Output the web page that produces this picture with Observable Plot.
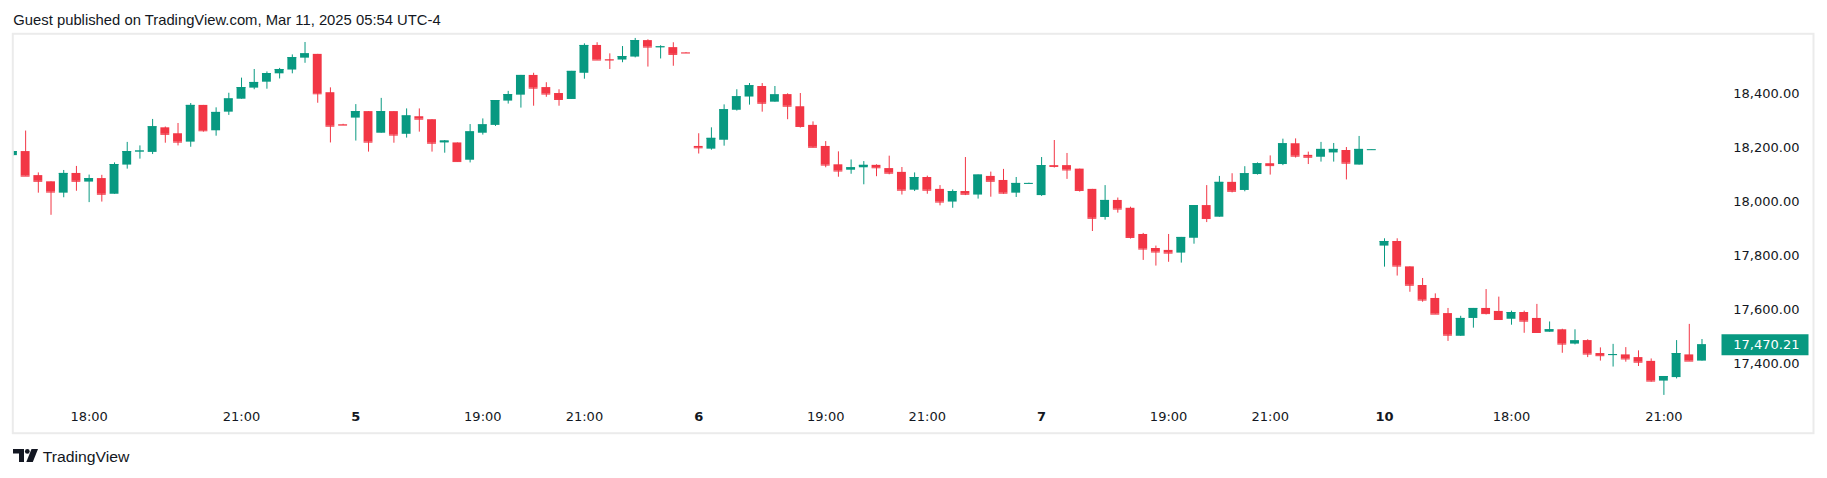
<!DOCTYPE html>
<html>
<head>
<meta charset="utf-8">
<script src="https://cdn.jsdelivr.net/npm/d3@7"></script>
<script src="https://cdn.jsdelivr.net/npm/@observablehq/plot@0.6"></script>
<style>
  html, body { margin: 0; padding: 0; background: #fff; }
  body { width: 1827px; height: 478px; position: relative; overflow: hidden; }
  #title { position: absolute; left: 0; top: 0; }
  #chart { position: absolute; left: 0; top: 30px; }
  #footer { position: absolute; left: 0; top: 440px; }
</style>
</head>
<body>
<svg id="title" width="480" height="32"><text x="13.3" y="25" textLength="427.4" lengthAdjust="spacingAndGlyphs" font-family="Liberation Sans, Arial, sans-serif" font-size="15" fill="#131722">Guest published on TradingView.com, Mar 11, 2025 05:54 UTC-4</text></svg>
<div id="chart"></div>
<svg id="footer" width="200" height="30">
  <g transform="translate(13,9)"><path d="M0 0H11V13H6V4.5H0Z" fill="#131722"/><circle cx="14.3" cy="2.4" r="2.4" fill="#131722"/><path d="M18.5 0H25L19.8 13H13.3Z" fill="#131722"/></g>
  <text x="42.7" y="21.7" textLength="86.6" lengthAdjust="spacingAndGlyphs" font-family="Liberation Sans, Arial, sans-serif" font-size="15.5" fill="#131722">TradingView</text>
</svg>
<script>
// ---- data (15-minute bars, index = bar number) ----
const opens = [
18171,18186,18097,18074,18032,18105,18073,18086,18028,18136,18185,18183,18274,18252,18221,18357,18263,18332,18380,18421,18443,18474,18488,18532,18546,18404,18286,
18310,18334,18254,18334,18250,18315,18304,18218,18218,18154,18254,18283,18373,18395,18468,18423,18401,18379,18476,18579,18527,18525,18536,18597,18571,18571,18552,
18205,18195,18228,18339,18388,18427,18369,18397,18352,18283,18205,18137,18117,18126,18135,18123,18109,18043,18090,18046,17999,18038,18025,18094,18079,18032,18067.5,
18023,18134,18134,18121,18046,17942,18005,17976,17879,17827,17820,17810,17865,17986,17943,18072,18042,18101,18141,18138,18215,18172,18165,18181,18190,18136,18192,
17836,17853,17759,17690,17642,17586,17502,17568,17605,17594,17565,17590,17568,17517,17526,17473,17486,17438,17431,17433,17423,17409,17336,17349,17433,17410];
const highs = [
18188,18262,18107,18074,18116,18131,18099,18098,18144,18220,18207,18305,18277,18290,18364,18357,18348,18402,18458,18490,18481,18494,18544,18590,18546,18422,18287,
18360,18334,18383,18334,18344,18344,18304,18227,18218,18286,18307,18375,18409,18468,18476,18441,18415,18483,18585,18589,18548,18575,18605,18600,18578,18589,18553,
18252,18274,18359,18415,18438,18438,18427,18400,18401,18296,18223,18185,18155,18149,18137,18169,18127,18107,18095,18060,18044,18164,18099,18110,18120,18090,18069,
18164,18227,18179,18121,18046,18060,18014,17980,17883,17836,17879,17868,17986,18060,18094,18104,18130,18144,18170,18232,18233,18184,18220,18216,18201,18242,18193.5,
17863,17863,17759,17716,17659,17605,17576,17605,17675,17647,17595,17595,17620,17555,17528,17526,17489,17459,17472,17460,17448,17418,17353,17486,17546,17490];
const lows = [
18168,18095,18032,17950,18015,18039,17997,17999,18028,18121,18158,18175,18217,18207,18202,18258,18243,18320,18380,18415,18417,18455,18474,18513,18365,18218,18283,
18225,18184,18254,18217,18236,18258,18184,18180,18147,18144,18247,18279,18362,18347,18354,18387,18354,18379,18454,18525,18490,18515,18533,18499,18529,18502,18550,
18177,18191,18206,18336,18358,18332,18369,18304,18273,18200,18126,18091,18102,18063,18093,18100,18025,18038,18028,17985,17976,18023,18010,18017,18028,18016,18067,
18020,18125,18083,18036,17890,17932,17958,17862,17783,17762,17776,17773,17843,17923,17943,18033,18037,18099,18099,18134,18162,18138,18147,18147,18081,18136,18192,
17758,17725,17665,17628,17584,17483,17502,17532,17581,17562,17543,17513,17515,17517,17439,17470,17423,17410,17388,17406,17390,17332,17283,17344,17410,17410];
const closes = [
18186,18095,18076,18036,18105,18076,18086,18028,18138,18186,18188,18278,18250,18221,18357,18263,18331,18381,18423,18442,18475,18490,18534,18548,18400,18280,18284,
18334,18221,18334,18247,18318,18306,18217,18225,18149,18259,18285,18375,18397,18468,18421,18399,18379,18483,18579,18525,18525,18538,18597,18573,18574,18546,18551,
18200,18235,18341,18389,18430,18365,18396,18354,18279,18202,18136,18114,18126,18135,18126,18106,18043,18090,18043,17999,18038,18028,18099,18076,18032,18068,18068,
18134,18131,18118,18042,17939,18005,17973,17868,17825,17814,17810,17868,17986,17938,18072,18039,18104,18141,18134,18215,18169,18165,18194,18194,18143,18194,18193,
17853,17762,17691,17636,17584,17506,17568,17605,17586,17564,17590,17558,17516,17526,17473,17485,17436,17430,17434,17418,17406,17336,17353,17438,17410,17470.21];

const xTickIndex  = [6, 18, 27, 37, 45, 54, 64, 72, 81, 91, 99, 108, 118, 130];
const xTickLabels = ["18:00","21:00","5","19:00","21:00","6","19:00","21:00","7","19:00","21:00","10","18:00","21:00"];
const xTickBold   = [false,false,true,false,false,true,false,false,true,false,false,true,false,false];
const yTicks = [17400, 17600, 17800, 18000, 18200, 18400];

// ---- build ----
const UP = "#089981", DOWN = "#F23645", INK = "#131722";
const bars = opens.map((o, i) => ({i, open: o, high: highs[i], low: lows[i], close: closes[i]}));
const col = d => d.close >= d.open ? UP : DOWN;
const ticks = xTickIndex.map((x, k) => ({x, label: xTickLabels[k], bold: xTickBold[k]}));
const last = bars[bars.length - 1];
const fmt = d3.format(",.2f");
const labelBox = { draw(ctx) { ctx.rect(-43.5, -10.5, 87, 21); } };

const chart = Plot.plot({
  width: 1827,
  height: 406,
  marginLeft: 12.3,
  marginRight: 14,
  marginTop: 3.3,
  marginBottom: 3.3,
  style: { fontFamily: "DejaVu Sans", fontSize: "13px", color: INK, background: "white" },
  x: { type: "linear", domain: [-0.01, 141.78], axis: null },
  y: { type: "linear", domain: [17143, 18622.2], axis: null },
  marks: [
    Plot.ruleX(bars, { x: "i", y1: "low", y2: "high", stroke: col, strokeWidth: 1, clip: true }),
    Plot.rect(bars, { x1: d => d.i - 0.35, x2: d => d.i + 0.35, y1: "open", y2: "close", fill: col, clip: true }),
    Plot.ruleY(bars, { x1: d => d.i - 0.35, x2: d => d.i + 0.35, y: "close", stroke: col, clip: true }),
    Plot.frame({ stroke: "#ebebeb", strokeWidth: 2 }),
    Plot.text(yTicks, { y: d => d, text: d => fmt(d), frameAnchor: "right", textAnchor: "end", dx: -14, fill: INK }),
    Plot.dot([last], { y: "close", frameAnchor: "right", dx: -48.5, symbol: labelBox, r: 10, fill: UP, stroke: "none" }),
    Plot.text([last], { y: "close", text: d => fmt(d.close), frameAnchor: "right", textAnchor: "end", dx: -14, fill: "white" }),
    Plot.text(ticks.filter(t => !t.bold), { x: "x", text: "label", frameAnchor: "bottom", dy: -16, lineAnchor: "middle", fill: INK }),
    Plot.text(ticks.filter(t => t.bold), { x: "x", text: "label", frameAnchor: "bottom", dy: -16, lineAnchor: "middle", fill: INK, fontWeight: "bold" })
  ]
});
document.getElementById("chart").appendChild(chart);
</script>
</body>
</html>
